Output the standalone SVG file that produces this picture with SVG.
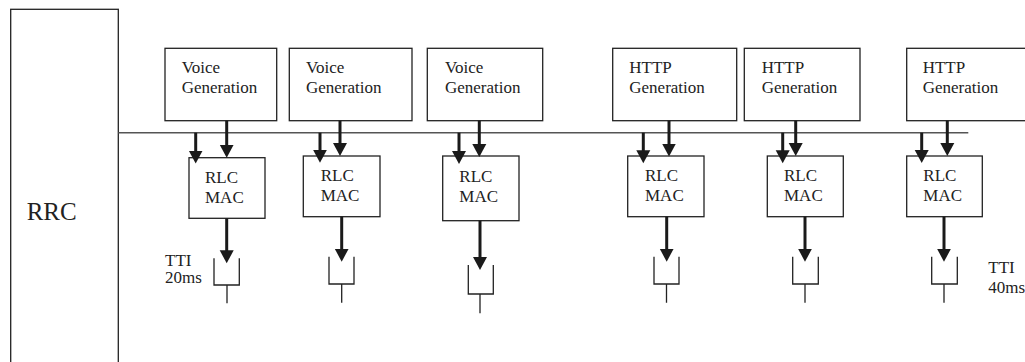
<svg xmlns="http://www.w3.org/2000/svg" width="1025" height="362" viewBox="0 0 1025 362">
<style>
.box{fill:#fff;stroke:#222;stroke-width:1.3}
.t{font-family:"Liberation Serif","Times New Roman",serif;font-size:17px;fill:#222}
.big{font-family:"Liberation Serif","Times New Roman",serif;font-size:25px;fill:#222}
.arr{stroke:#1a1a1a;stroke-width:3;fill:none;marker-end:url(#ah)}
.bus{stroke:#555;stroke-width:1.6;fill:none}
.buf{stroke:#222;stroke-width:1.3;fill:none}
</style>
<defs>
<marker id="ah" markerUnits="userSpaceOnUse" markerWidth="14" markerHeight="16" viewBox="0 -8 14 16" refX="1" refY="0" orient="auto">
<path d="M0,-7 L13,0 L0,7 z" fill="#1a1a1a"/>
</marker>
</defs>
<g id="rrc">
<rect class="box" x="10.7" y="9.3" width="107.6" height="360"/>
<text class="big" x="26.7" y="220">RRC</text>
</g>
<g id="voice1"><rect class="box" x="165" y="48.3" width="111.7" height="72.4"/><text class="t" x="181.7" y="73">Voice</text><text class="t" x="181.7" y="93">Generation</text></g>
<g id="voice2"><rect class="box" x="289.3" y="48.3" width="122.7" height="72.4"/><text class="t" x="306" y="73">Voice</text><text class="t" x="306" y="93">Generation</text></g>
<g id="voice3"><rect class="box" x="427.3" y="48.3" width="115.4" height="72.4"/><text class="t" x="445" y="73">Voice</text><text class="t" x="445" y="93">Generation</text></g>
<g id="http1"><rect class="box" x="612.7" y="48.3" width="124" height="72.4"/><text class="t" x="629.3" y="73.3">HTTP</text><text class="t" x="629.3" y="93.3">Generation</text></g>
<g id="http2"><rect class="box" x="744.3" y="48.3" width="115.7" height="72.4"/><text class="t" x="761.7" y="73.3">HTTP</text><text class="t" x="761.7" y="93.3">Generation</text></g>
<g id="http3"><rect class="box" x="906.7" y="48.3" width="125" height="72.4"/><text class="t" x="922.7" y="73.3">HTTP</text><text class="t" x="922.7" y="93.3">Generation</text></g>
<g id="rlc1"><rect class="box" x="189" y="157.7" width="76" height="60.6"/><text class="t" x="205" y="183.3">RLC</text><text class="t" x="205" y="203.3">MAC</text></g>
<g id="rlc2"><rect class="box" x="303.3" y="156" width="76.7" height="60.7"/><text class="t" x="320.7" y="180.7">RLC</text><text class="t" x="320.7" y="200.7">MAC</text></g>
<g id="rlc3"><rect class="box" x="442.7" y="156" width="76.3" height="64.7"/><text class="t" x="459.3" y="181.7">RLC</text><text class="t" x="459.3" y="201.7">MAC</text></g>
<g id="rlc4"><rect class="box" x="627.7" y="156" width="76.3" height="60.7"/><text class="t" x="645" y="181">RLC</text><text class="t" x="645" y="201">MAC</text></g>
<g id="rlc5"><rect class="box" x="767.3" y="156" width="76" height="60.7"/><text class="t" x="784" y="181">RLC</text><text class="t" x="784" y="201">MAC</text></g>
<g id="rlc6"><rect class="box" x="906.7" y="156" width="75.6" height="60.7"/><text class="t" x="923.3" y="181">RLC</text><text class="t" x="923.3" y="201">MAC</text></g>
<g id="buf1"><path class="buf" d="M214,258.3 V285 H239.3 V258.3 M227,285 V303.3"/></g>
<g id="buf2"><path class="buf" d="M329,256.7 V284 H354 V256.7 M341.7,284 V302.7"/></g>
<g id="buf3"><path class="buf" d="M468.3,265 V294 H493.3 V265 M480,294 V313.3"/></g>
<g id="buf4"><path class="buf" d="M654,256.7 V284 H679 V256.7 M666.5,284 V302.7"/></g>
<g id="buf5"><path class="buf" d="M792.7,256.7 V284 H818.3 V256.7 M805,284 V302.7"/></g>
<g id="buf6"><path class="buf" d="M931.7,256.7 V284 H957.3 V256.7 M944,284 V302.7"/></g>
<g id="tti20"><text class="t" x="165" y="265.7">TTI</text><text class="t" x="165" y="283.3">20ms</text></g>
<g id="tti40"><text class="t" x="988.3" y="272.7">TTI</text><text class="t" x="988.3" y="293.3">40ms</text></g>
<g id="connectors">
<line class="bus" x1="118.3" y1="132.7" x2="968.3" y2="132.7"/>
<line class="arr" x1="226.7" y1="120.7" x2="226.7" y2="145.7"/>
<line class="arr" x1="195.7" y1="132.7" x2="195.7" y2="151.5"/>
<line class="arr" x1="226.7" y1="218.3" x2="226.7" y2="251.3"/>
<line class="arr" x1="340" y1="120.7" x2="340" y2="144"/>
<line class="arr" x1="320" y1="132.7" x2="320" y2="150.7"/>
<line class="arr" x1="341.7" y1="216.7" x2="341.7" y2="249.7"/>
<line class="arr" x1="479.3" y1="120.7" x2="479.3" y2="145"/>
<line class="arr" x1="459" y1="132.7" x2="459" y2="152"/>
<line class="arr" x1="480" y1="220.7" x2="480" y2="258"/>
<line class="arr" x1="669" y1="120.7" x2="669" y2="144.5"/>
<line class="arr" x1="643.3" y1="132.7" x2="643.3" y2="151.3"/>
<line class="arr" x1="666.7" y1="216.7" x2="666.7" y2="249.7"/>
<line class="arr" x1="795.7" y1="120.7" x2="795.7" y2="144"/>
<line class="arr" x1="782.7" y1="132.7" x2="782.7" y2="151.3"/>
<line class="arr" x1="805" y1="216.7" x2="805" y2="249.7"/>
<line class="arr" x1="947.3" y1="120.7" x2="947.3" y2="144"/>
<line class="arr" x1="921.7" y1="132.7" x2="921.7" y2="151"/>
<line class="arr" x1="944" y1="216.7" x2="944" y2="249.7"/>
</g>
</svg>
